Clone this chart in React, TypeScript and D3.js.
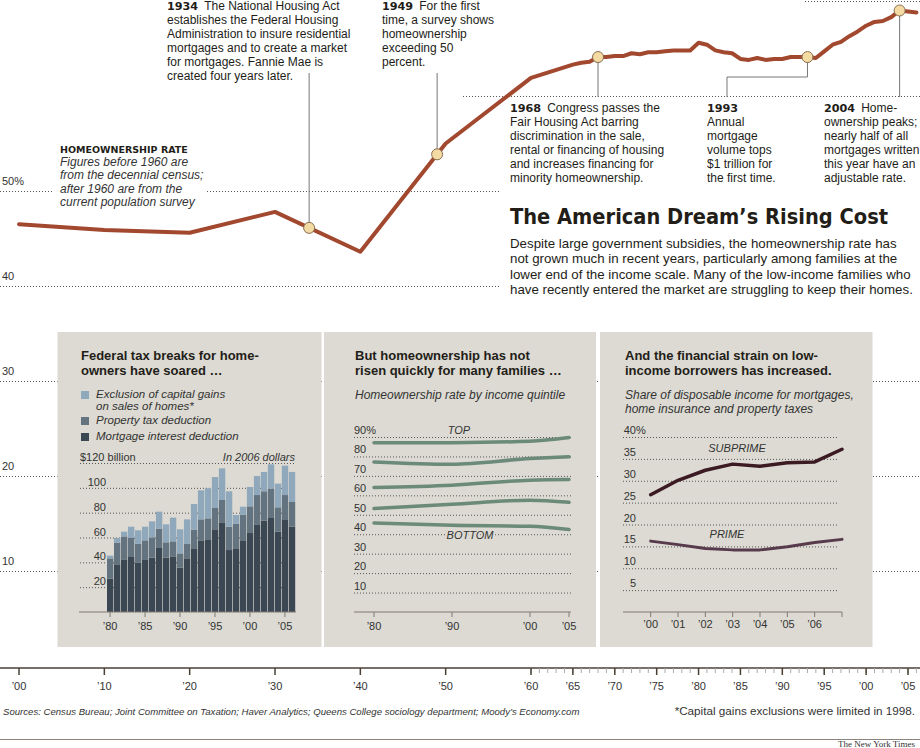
import React from "react";
import * as d3 from "d3";

// ---------------- DATA ----------------
const censusYears = [1900, 1910, 1920, 1930, 1940, 1950, 1960];
const censusRates = [46.5, 45.9, 45.6, 47.8, 43.6, 55.0, 61.9];
const cpsYears = d3.range(1965, 2007);
const cpsRates = [
  63.3, 63.5, 63.6, 64.1, 64.1, 64.2, 64.2, 64.5, 64.4, 64.6, 64.6, 64.7, 64.8, 64.8, 64.8,
  65.6, 65.4, 64.8, 64.6, 64.5, 63.9, 63.8, 64.0, 63.8, 63.9, 63.9, 64.1, 64.1, 64.1, 64.0,
  64.7, 65.4, 65.7, 66.3, 66.8, 67.4, 67.8, 67.9, 68.3, 69.0, 68.9, 68.8,
];
const mainTickLevels = [50, 40, 30, 20, 10];
const mainTickLabels = ["50%", "40", "30", "20", "10"];
const axisMajorYears = [1900, 1910, 1920, 1930, 1940, 1950, 1960, 1965, 1970, 1975, 1980, 1985, 1990, 1995, 2000, 2005];
const axisMinorYears = d3.range(1960, 2007);

const eventYears = [1934, 1949, 1968, 1993, 2004];
const eventTexts = [
  ["The National Housing Act", "establishes the Federal Housing", "Administration to insure residential", "mortgages and to create a market", "for mortgages. Fannie Mae is", "created four years later."],
  ["For the first", "time, a survey shows", "homeownership", "exceeding 50", "percent."],
  ["Congress passes the", "Fair Housing Act barring", "discrimination in the sale,", "rental or financing of housing", "and increases financing for", "minority homeownership."],
  ["", "Annual", "mortgage", "volume tops", "$1 trillion for", "the first time."],
  ["Home-", "ownership peaks;", "nearly half of all", "mortgages written", "this year have an", "adjustable rate."],
];

// Panel 1: tax breaks (billions, 2006 dollars)
const taxYears = d3.range(1980, 2007);
const mortgageDeduction = [26.8, 38.4, 42.4, 44.3, 39.7, 41.9, 43.8, 52.1, 43.8, 44.8, 35.7, 43.2, 51.3, 57.7, 58.0, 66.6, 72.2, 49.9, 51.3, 57.2, 63.6, 70.6, 73.6, 75.7, 64.7, 74.1, 68.7];
const propertyDeduction = [16.4, 17.4, 18.5, 15.3, 15.1, 15.8, 16.3, 15.0, 12.3, 12.1, 11.5, 11.6, 15.0, 16.9, 17.4, 17.2, 18.0, 18.8, 19.8, 21.2, 21.5, 23.6, 23.6, 23.6, 19.6, 20.1, 19.9];
const capGainsExclusion = [2.2, 3.8, 3.8, 9.1, 11.0, 11.0, 12.9, 13.7, 14.5, 19.1, 19.4, 19.8, 20.7, 23.4, 24.2, 24.9, 25.5, 28.5, 7.0, 6.4, 15.6, 15.3, 15.6, 19.6, 19.1, 23.7, 24.2];
const taxSeriesNames = ["Mortgage interest deduction", "Property tax deduction", "Exclusion of capital gains"];
const taxTicks = [20, 40, 60, 80, 100, 120];
const taxAxisYears = [1980, 1985, 1990, 1995, 2000, 2005];

// Panel 2: homeownership by income quintile
const quintileYears = [1980, 1990, 2000, 2005];
const quintileTop = [87.0, 87.1, 87.8, 89.7];
const quintile4 = [77.2, 76.0, 78.9, 79.8];
const quintile3 = [64.0, 65.2, 67.8, 68.1];
const quintile2 = [53.2, 55.4, 57.5, 56.4];
const quintileBottom = [45.8, 44.6, 44.1, 42.4];
const quintileTicks = [10, 20, 30, 40, 50, 60, 70, 80, 90];
const quintileAxisYears = [1980, 1990, 2000, 2005];

// Panel 3: share of disposable income
const burdenYears = [2000, 2001, 2002, 2003, 2004, 2005, 2006, 2007];
const subprimeShare = [26.8, 30.1, 32.4, 33.8, 33.3, 34.1, 34.3, 37.2];
const primeShare = [16.2, 15.4, 14.5, 14.2, 14.2, 14.9, 15.9, 16.6];
const burdenTicks = [5, 10, 15, 20, 25, 30, 35, 40];
const burdenAxisYears = [2000, 2001, 2002, 2003, 2004, 2005, 2006, 2007];

// ---------------- STYLE ----------------
const SANS = "'Liberation Sans', Arial, Helvetica, sans-serif";
const HEAVY = "'DejaVu Sans', 'Liberation Sans', sans-serif";
const INK = "#231d18";
const PANEL = "#dcdad2";
const DOT = "1,2";

const yr = (y: number) => "\u2019" + String(y).slice(2);

export default function App() {
  const mainYears = [...censusYears, ...cpsYears];
  const mainRates = [...censusRates, ...cpsRates];
  const x = d3.scaleLinear().domain([1900, 1960, 2005]).range([19, 531, 908]);
  const y = d3.scaleLinear().domain([0, 50]).range([666, 191]);
  const rateAt = (yy: number) => {
    const i = Math.max(1, d3.bisectRight(mainYears, yy));
    const y0 = mainYears[i - 1], y1 = mainYears[i];
    const t = (yy - y0) / (y1 - y0);
    return mainRates[i - 1] + t * (mainRates[i] - mainRates[i - 1]);
  };
  const mainLine = d3
    .line<number>()
    .x((_, i) => x(mainYears[i]))
    .y((d) => y(d))(mainRates) as string;

  const gridSegs: Record<number, [number, number][]> = {
    70: [[805, 920]],
    60: [[463, 920]],
    50: [[0, 52], [207, 500]],
    40: [[0, 500]],
    30: [[0, 920]],
    20: [[0, 920]],
    10: [[0, 920]],
  };

  const annX = [167, 382, 510, 707, 824];
  const annY = [10, 10, 112, 112, 112];

  // Panel 1 scales
  const xb = d3.scaleBand<number>().domain(taxYears).range([107, 295]).paddingInner(0.12);
  const yb = d3.scaleLinear().domain([0, 120]).range([612, 463]);
  const stackData = taxYears.map((yv, i) => ({
    year: yv,
    m: mortgageDeduction[i],
    p: propertyDeduction[i],
    c: capGainsExclusion[i],
  }));
  const stack = d3.stack<any>().keys(["m", "p", "c"])(stackData);
  const barColors = ["#3b4854", "#63737f", "#8fa8bc"];

  // Panel 2 scales
  const xq = d3.scaleLinear().domain([1980, 2005]).range([374, 569]);
  const yq = d3.scaleLinear().domain([0, 90]).range([612, 437]);
  const qLine = d3
    .line<number>()
    .x((_, i) => xq(quintileYears[i]))
    .y((d) => yq(d))
    .curve(d3.curveMonotoneX);
  const quintiles = [quintileTop, quintile4, quintile3, quintile2, quintileBottom];

  // Panel 3 scales
  const xs = d3.scaleLinear().domain([2000, 2007]).range([650.7, 842]);
  const ys = d3.scaleLinear().domain([0, 40]).range([612, 437]);
  const sLine = d3
    .line<number>()
    .x((_, i) => xs(burdenYears[i]))
    .y((d) => ys(d));

  return (
    <div style={{ position: "absolute", left: 0, top: 0 }}>
      <svg width={920} height={748} style={{ display: "block", background: "#fff" }} fontFamily={SANS}>
        {/* main grid */}
        {[70, 60, 50, 40, 30, 20, 10].map((lv) =>
          gridSegs[lv].map(([a, b], k) => (
            <line key={lv + "-" + k} x1={a} x2={b} y1={y(lv) + 0.5} y2={y(lv) + 0.5} stroke="#555" strokeDasharray={DOT} strokeWidth={1} />
          ))
        )}
        {mainTickLevels.map((lv, i) => (
          <text key={lv} x={2} y={y(lv) - 6} fontSize={11} fill="#333">
            {mainTickLabels[i]}
          </text>
        ))}

        {/* left label */}
        <text x={60} y={153} fontSize={9.5} fontWeight="bold" fill={INK} fontFamily={HEAVY}>HOMEOWNERSHIP RATE</text>
        {["Figures before 1960 are", "from the decennial census;", "after 1960 are from the", "current population survey"].map((t, i) => (
          <text key={i} x={60} y={166 + i * 13.3} fontSize={12} fontStyle="italic" fill="#333">
            {t}
          </text>
        ))}

        {/* leader lines */}
        <line x1={x(1934)} x2={x(1934)} y1={73} y2={y(rateAt(1934))} stroke="#777" />
        <line x1={x(1949)} x2={x(1949)} y1={73} y2={y(rateAt(1949))} stroke="#777" />
        <line x1={x(1968)} x2={x(1968)} y1={y(rateAt(1968))} y2={97} stroke="#777" />
        <polyline points={`${x(1993)},${y(rateAt(1993))} ${x(1993)},77 727,77 727,97`} fill="none" stroke="#777" />
        <line x1={x(2004)} x2={x(2004)} y1={y(rateAt(2004))} y2={97} stroke="#777" />

        {/* main line */}
        <path d={mainLine} fill="none" stroke="#a2482f" strokeWidth={4} strokeLinejoin="round" strokeLinecap="round" />
        {eventYears.map((ev) => (
          <circle key={ev} cx={x(ev)} cy={y(rateAt(ev))} r={5.5} fill="#f4dba4" stroke="#8a6d50" strokeWidth={1} />
        ))}

        {/* annotations */}
        {eventYears.map((ev, k) => (
          <text key={ev} fontSize={12} fill={INK}>
            {eventTexts[k].map((line, i) => (
              <tspan key={i} x={annX[k]} y={annY[k] + i * 14}>
                {i === 0 ? (
                  <>
                    <tspan fontFamily={HEAVY} fontWeight="bold" fontSize={11.2}>{ev}</tspan>
                    {line ? "\u2002" + line : ""}
                  </>
                ) : (
                  line
                )}
              </tspan>
            ))}
          </text>
        ))}

        {/* title & dek */}
        <text x={510} y={224} fontSize={21} fontWeight="bold" fontFamily={HEAVY} fill={INK} textLength={378} lengthAdjust="spacingAndGlyphs">
          The American Dream’s Rising Cost
        </text>
        {[
          "Despite large government subsidies, the homeownership rate has",
          "not grown much in recent years, particularly among families at the",
          "lower end of the income scale. Many of the low-income families who",
          "have recently entered the market are struggling to keep their homes.",
        ].map((t, i) => (
          <text key={i} x={510} y={248 + i * 15.4} fontSize={13.3} fill={INK}>
            {t}
          </text>
        ))}

        {/* panels */}
        <rect x={57.5} y={332} width={264} height={315} fill={PANEL} />
        <rect x={324} y={332} width={272} height={315} fill={PANEL} />
        <rect x={600} y={332} width={272.5} height={315} fill={PANEL} />

        {/* Panel 1 */}
        <text x={81} y={360} fontSize={13} fontWeight="bold" fill={INK}>Federal tax breaks for home-</text>
        <text x={81} y={375} fontSize={13} fontWeight="bold" fill={INK}>owners have soared …</text>
        {[2, 1, 0].map((k, i) => {
          const ys0 = [391, 417, 433][i];
          return <rect key={k} x={81} y={ys0} width={8} height={8} fill={barColors[k]} />;
        })}
        <text x={96} y={398} fontSize={11.5} fontStyle="italic" fill="#333">{taxSeriesNames[2]}</text>
        <text x={96} y={410} fontSize={11.5} fontStyle="italic" fill="#333">on sales of homes*</text>
        <text x={96} y={424} fontSize={11.5} fontStyle="italic" fill="#333">{taxSeriesNames[1]}</text>
        <text x={96} y={440} fontSize={11.5} fontStyle="italic" fill="#333">{taxSeriesNames[0]}</text>
        {taxTicks.map((t) => (
          <line key={t} x1={80} x2={295} y1={yb(t) + 0.5} y2={yb(t) + 0.5} stroke="#555" strokeDasharray={DOT} />
        ))}
        {taxTicks.map((t) =>
          t === 120 ? (
            <g key={t}>
              <text x={80} y={yb(t) - 2} fontSize={11} fill="#333">$120 billion</text>
              <text x={295} y={yb(t) - 2} fontSize={11} fill="#333" fontStyle="italic" textAnchor="end">In 2006 dollars</text>
            </g>
          ) : (
            <text key={t} x={106} y={yb(t) - 2} fontSize={11} fill="#333" textAnchor="end">{t}</text>
          )
        )}
        {stack.map((layer, k) =>
          layer.map((d, i) => (
            <rect
              key={k + "-" + i}
              x={xb(taxYears[i]) as number}
              width={xb.bandwidth() + 0.2}
              y={yb(d[1])}
              height={yb(d[0]) - yb(d[1])}
              fill={barColors[k]}
            />
          ))
        )}
        <line x1={79} x2={296} y1={612} y2={612} stroke="#807a72" strokeWidth={1.2} />
        {taxAxisYears.map((t) => {
          const cx = (xb(t) as number) + xb.bandwidth() / 2;
          return (
            <g key={t}>
              <line x1={cx} x2={cx} y1={612} y2={617} stroke="#807a72" />
              <text x={cx} y={630} fontSize={11} fill="#333" textAnchor="middle">{yr(t)}</text>
            </g>
          );
        })}

        {/* Panel 2 */}
        <text x={355} y={360} fontSize={13} fontWeight="bold" fill={INK}>But homeownership has not</text>
        <text x={355} y={375} fontSize={13} fontWeight="bold" fill={INK}>risen quickly for many families …</text>
        <text x={355} y={399} fontSize={12} fontStyle="italic" fill="#333">Homeownership rate by income quintile</text>
        {quintileTicks.map((t) => (
          <g key={t}>
            <line x1={354} x2={571} y1={yq(t) + 0.5} y2={yq(t) + 0.5} stroke="#555" strokeDasharray={DOT} />
            <text x={354} y={yq(t) - 3} fontSize={11} fill="#333">{t === 90 ? "90%" : t}</text>
          </g>
        ))}
        {quintiles.map((q, k) => (
          <path key={k} d={qLine(q) as string} fill="none" stroke="#6b8a78" strokeWidth={3.5} strokeLinecap="round" />
        ))}
        <text x={459} y={434} fontSize={11} fontStyle="italic" fill="#333" textAnchor="middle" stroke={PANEL} strokeWidth={4} paintOrder="stroke">TOP</text>
        <text x={470} y={539} fontSize={11} fontStyle="italic" fill="#333" textAnchor="middle" stroke={PANEL} strokeWidth={4} paintOrder="stroke">BOTTOM</text>
        <line x1={354} x2={571} y1={612} y2={612} stroke="#807a72" strokeWidth={1.2} />
        {quintileAxisYears.map((t) => (
          <g key={t}>
            <line x1={xq(t)} x2={xq(t)} y1={612} y2={617} stroke="#807a72" />
            <text x={xq(t)} y={630} fontSize={11} fill="#333" textAnchor="middle">{yr(t)}</text>
          </g>
        ))}

        {/* Panel 3 */}
        <text x={625} y={360} fontSize={13} fontWeight="bold" fill={INK}>And the financial strain on low-</text>
        <text x={625} y={375} fontSize={13} fontWeight="bold" fill={INK}>income borrowers has increased.</text>
        <text x={625} y={399} fontSize={12} fontStyle="italic" fill="#333">Share of disposable income for mortgages,</text>
        <text x={625} y={413} fontSize={12} fontStyle="italic" fill="#333">home insurance and property taxes</text>
        {burdenTicks.map((t) => (
          <g key={t}>
            <line x1={623} x2={839} y1={ys(t) + 0.5} y2={ys(t) + 0.5} stroke="#555" strokeDasharray={DOT} />
            <text x={636} y={ys(t) - 3} fontSize={11} fill="#333" textAnchor="end">{t}</text>
            {t === 40 && <text x={636} y={ys(t) - 3} fontSize={11} fill="#333">%</text>}
          </g>
        ))}
        <path d={sLine(subprimeShare) as string} fill="none" stroke="#3b1a24" strokeWidth={3.5} strokeLinecap="round" strokeLinejoin="round" />
        <path d={sLine(primeShare) as string} fill="none" stroke="#573a4b" strokeWidth={3} strokeLinecap="round" strokeLinejoin="round" />
        <text x={737} y={452} fontSize={11} fontStyle="italic" fill="#333" textAnchor="middle">SUBPRIME</text>
        <text x={727} y={538} fontSize={11} fontStyle="italic" fill="#333" textAnchor="middle">PRIME</text>
        <line x1={623} x2={842} y1={612} y2={612} stroke="#807a72" strokeWidth={1.2} />
        {burdenAxisYears.map((t) => (
          <g key={t}>
            <line x1={xs(t)} x2={xs(t)} y1={612} y2={617} stroke="#807a72" />
            {t < 2007 && <text x={xs(t)} y={628} fontSize={11} fill="#333" textAnchor="middle">{yr(t)}</text>}
          </g>
        ))}

        {/* main x axis */}
        <line x1={0} x2={920} y1={668} y2={668} stroke="#4a4036" strokeWidth={1.5} />
        {axisMinorYears.map((t) => (
          <line key={"m" + t} x1={x(t)} x2={x(t)} y1={668} y2={673} stroke="#aaa" strokeWidth={1} />
        ))}
        {axisMajorYears.map((t) => (
          <g key={t}>
            <line x1={x(t)} x2={x(t)} y1={668} y2={675} stroke="#4a4036" strokeWidth={1.5} />
            <text x={x(t)} y={690} fontSize={11} fill="#333" textAnchor="middle">{yr(t)}</text>
          </g>
        ))}

        {/* footer */}
        <text x={3} y={715} fontSize={9.6} fontStyle="italic" fill="#333">
          Sources: Census Bureau; Joint Committee on Taxation; Haver Analytics; Queens College sociology department; Moody’s Economy.com
        </text>
        <text x={915} y={715} fontSize={11.7} fill="#333" textAnchor="end">*Capital gains exclusions were limited in 1998.</text>
        <line x1={0} x2={920} y1={739.5} y2={739.5} stroke="#8a847c" strokeWidth={1} />
        <text x={915} y={747} fontSize={9} fill="#333" textAnchor="end" fontFamily="'Liberation Serif', 'DejaVu Serif', serif">The New York Times</text>
      </svg>
    </div>
  );
}
